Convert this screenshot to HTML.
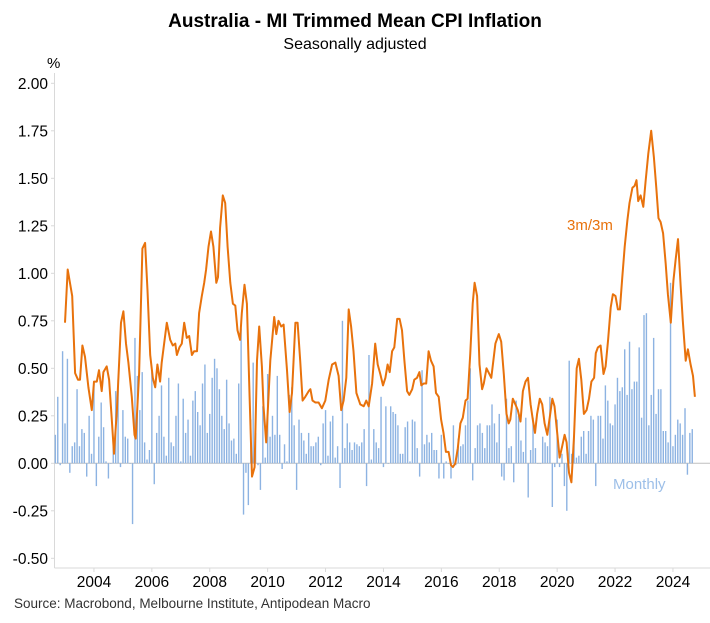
<!DOCTYPE html>
<html><head><meta charset="utf-8"><style>
body{margin:0;background:#fff;width:710px;height:623px;overflow:hidden}
svg{display:block;font-family:"Liberation Sans",Arial,sans-serif}
</style></head><body>
<svg width="710" height="623" viewBox="0 0 710 623">
<text x="355" y="27" text-anchor="middle" font-size="19" font-weight="bold" fill="#000">Australia - MI Trimmed Mean CPI Inflation</text>
<text x="355" y="49" text-anchor="middle" font-size="16" fill="#000">Seasonally adjusted</text>
<text x="47" y="68" font-size="15" fill="#000">%</text>
<g id="grid"></g>
<g id="bars"></g>
<g id="line"></g>
<text x="567" y="230" font-size="15" fill="#e8720c">3m/3m</text>
<text x="613" y="489" font-size="15" fill="#9dbfe8">Monthly</text>
<text x="14" y="608" font-size="13.5" fill="#333">Source: Macrobond, Melbourne Institute, Antipodean Macro</text>
</svg>
<script>
// months since Jan 2003 for 3m/3m line
const lineMonths=[0,1.1,3.0,4.2,5.4,6.2,7.2,8.3,9.7,11.1,12.0,13.2,14.1,15.2,15.9,17.3,18.3,19.4,20.3,21.5,23.2,24.2,25.3,26.3,27.7,28.8,29.3,30.7,32.1,33.2,34.2,35.3,36.4,37.4,38.3,39.4,40.1,42.2,43.6,44.7,45.7,46.4,47.4,48.4,49.4,50.5,51.5,52.6,53.5,54.7,55.6,56.7,57.7,58.5,59.5,60.5,61.5,62.7,63.4,64.3,65.4,66.4,67.4,68.5,69.6,70.6,71.5,72.6,73.3,74.4,75.4,76.5,77.5,78.6,79.6,80.5,81.6,82.3,83.4,85.1,86.7,87.6,88.5,89.6,90.6,92.0,93.1,94.1,95.5,96.4,97.5,98.5,99.6,101.0,101.7,102.6,103.8,105.1,106.5,107.9,109.3,110.7,112.1,113.4,114.5,115.5,116.6,117.6,118.6,119.6,120.8,122.4,123.8,124.9,125.9,127.3,128.6,129.6,130.7,131.8,132.8,133.7,134.6,135.6,136.5,137.7,138.7,139.7,140.7,141.8,142.7,143.9,144.8,145.9,146.9,147.7,148.7,149.7,150.7,151.7,152.8,153.8,154.9,155.9,156.9,157.9,159.0,160.0,160.8,161.8,162.8,163.9,164.9,166.0,166.9,168.0,169.0,169.8,170.8,171.8,172.9,173.6,174.7,176.7,178.4,179.8,180.8,181.9,183.0,183.9,184.6,185.6,186.7,187.7,188.8,189.8,190.9,191.9,193.0,193.9,194.8,195.7,196.8,197.8,198.8,199.9,200.9,202.0,202.9,204.0,205.0,206.1,207.1,207.9,208.9,209.9,211.0,212.1,213.0,214.0,215.1,216.2,217.2,218.2,219.3,220.0,220.9,222.0,223.2,224.1,225.1,226.2,227.1,228.2,229.2,230.0,231.0,232.0,233.1,234.0,235.2,236.1,236.9,237.6,238.6,239.7,240.7,241.8,243.0,244.1,245.1,246.0,246.9,247.9,249.0,249.9,251.1,252.2,253.1,254.1,255.2,256.1,257.3,258.2,259.3,260.3,261.1];
const lineValues=[0.74,1.02,0.88,0.475,0.44,0.44,0.62,0.56,0.40,0.28,0.43,0.43,0.49,0.38,0.48,0.51,0.44,0.23,0.05,0.28,0.74,0.80,0.63,0.53,0.35,0.15,0.13,0.47,1.13,1.16,0.91,0.57,0.45,0.40,0.52,0.43,0.53,0.74,0.65,0.62,0.63,0.57,0.61,0.63,0.74,0.66,0.67,0.57,0.59,0.59,0.79,0.88,0.95,1.02,1.14,1.22,1.14,0.95,0.98,1.24,1.41,1.37,1.14,0.95,0.84,0.83,0.70,0.65,0.79,0.94,0.84,0.35,-0.07,-0.02,0.54,0.72,0.51,0.30,0.11,0.54,0.77,0.68,0.75,0.72,0.73,0.49,0.27,0.37,0.74,0.74,0.54,0.33,0.35,0.38,0.39,0.33,0.32,0.32,0.29,0.33,0.44,0.52,0.53,0.46,0.28,0.33,0.45,0.81,0.72,0.59,0.37,0.31,0.30,0.33,0.30,0.42,0.63,0.52,0.47,0.41,0.45,0.52,0.48,0.59,0.61,0.76,0.76,0.70,0.54,0.38,0.36,0.39,0.44,0.45,0.48,0.41,0.42,0.42,0.59,0.54,0.51,0.37,0.35,0.23,0.16,0.06,0.06,-0.01,-0.02,0.00,0.08,0.21,0.24,0.33,0.34,0.58,0.84,0.95,0.88,0.52,0.39,0.42,0.50,0.45,0.63,0.68,0.64,0.47,0.26,0.21,0.23,0.34,0.31,0.28,0.22,0.38,0.43,0.45,0.31,0.23,0.16,0.26,0.34,0.31,0.21,0.15,0.24,0.34,0.30,0.16,0.03,0.09,0.15,0.11,-0.05,-0.10,0.14,0.50,0.55,0.44,0.26,0.28,0.34,0.43,0.45,0.58,0.61,0.62,0.47,0.51,0.65,0.82,0.89,0.88,0.81,0.81,0.98,1.14,1.28,1.37,1.45,1.46,1.49,1.38,1.41,1.35,1.49,1.63,1.75,1.61,1.45,1.29,1.27,1.21,1.05,0.89,0.74,0.96,1.07,1.18,0.93,0.75,0.54,0.60,0.52,0.46,0.35];
// monthly values, consecutive months starting Sep 2002 (month index -4)
const barStart=-4;
const barValues=[0.15,0.35,-0.01,0.59,0.21,0.55,-0.05,0.09,0.11,0.39,0.09,0.18,0.16,-0.07,0.25,0.05,0.42,-0.12,0.14,0.32,0.19,0.01,-0.08,0,0.09,0.38,0.44,-0.02,0.28,0.14,0.13,0,-0.32,0.66,0.46,0.28,0.48,0.11,0.02,0.07,0.48,-0.11,0.16,0.25,0.41,0.14,0.04,0.45,0.11,0.09,0.25,0.42,0.01,0.34,0.16,0.23,0.04,0.33,0.38,0.27,0.20,0.42,0.52,0.16,0.26,0.45,0.55,0.50,0.39,0.25,0.18,0.44,0.21,0.12,0.13,0.05,0.42,0.71,-0.27,-0.05,-0.22,0.23,0.53,0.16,-0.01,-0.14,0.30,0.03,0.47,
0.14,0.25,0.15,0.46,0.15,-0.03,0.10,0.01,0.36,0.40,0.20,-0.14,0.23,0.16,0.12,0.05,0.16,0.09,0.09,0.11,0.14,-0.01,0.21,0.28,0.04,0.22,0.25,0.03,0.09,-0.13,0.75,0.08,0.21,0.11,0.07,0.11,0.10,0.09,0.11,0.18,-0.12,0.57,0.02,0.18,0.11,0.08,0.35,-0.02,0.30,0,0.30,0.27,0.26,0.20,0.05,0.05,0.19,0.22,0.01,0.23,0.22,0.08,-0.07,0.49,0.10,0.15,0.11,0.16,0.07,0.07,-0.08,0.15,-0.08,0.01,0,-0.08,0.20,-0.01,0.13,0.09,0.10,0.20,0.33,0.50,-0.09,0.08,0.20,0.21,0.16,0.08,0.20,
0.20,0.31,0.21,0.11,0.26,-0.07,-0.09,0.34,0.08,0.09,-0.10,0.33,0.25,0.12,0.06,0.24,-0.18,0.07,0.24,0.08,0,0,0.14,0.11,0.09,0.35,-0.23,-0.02,0.23,-0.02,0.05,-0.12,-0.25,0.54,0.05,0.14,0.03,0.04,0.14,0.17,0.05,0.17,0.25,0.23,-0.12,0.25,0.25,0.13,0.41,0.33,0.21,0.20,0.31,0.45,0.38,0.40,0.60,0.36,0.64,0.39,0.43,0.43,0.61,0.24,0.78,0.79,0.20,0.36,0.66,0.26,0.39,0.39,0.17,0.17,0.11,0.95,0.09,0.15,0.23,0.21,0.15,0.29,-0.06,0.16,0.18];
const yTicks=[2.00,1.75,1.50,1.25,1.00,0.75,0.50,0.25,0.00,-0.25,-0.50];
const xTickYears=[2004,2006,2008,2010,2012,2014,2016,2018,2020,2022,2024];

const NS='http://www.w3.org/2000/svg';
function xOf(m){return 65+m*2.4125;}
function xYear(y){return xOf((y-2003)*12);}
function yOf(v){return 463.3-v*190;}
function mk(tag,attrs,parent){const e=document.createElementNS(NS,tag);for(const k in attrs)e.setAttribute(k,attrs[k]);parent.appendChild(e);return e;}
const grid=document.getElementById('grid');
let ax=mk('line',{x1:54.5,y1:73,x2:54.5,y2:568,stroke:'#d9d9d9','stroke-width':1},grid);


let bx=mk('line',{x1:54.5,y1:568,x2:710,y2:568,stroke:'#d9d9d9','stroke-width':1},grid);


yTicks.forEach(v=>{
  const y=yOf(v);
  let t=mk('line',{x1:51,y1:y,x2:54.5,y2:y,stroke:'#d9d9d9'},grid);
  
  
  let l=mk('text',{x:48,y:y+5.5,'text-anchor':'end','font-size':15.5,fill:'#000'},grid);
  l.textContent=v.toFixed(2);
  
  
});
let z=mk('line',{x1:54.5,y1:yOf(0),x2:710,y2:yOf(0),stroke:'#bfbfbf','stroke-width':1},grid);


xTickYears.forEach(yr=>{
  const x=xYear(yr);
  let t=mk('line',{x1:x,y1:568,x2:x,y2:572,stroke:'#d9d9d9'},grid);
  
  
  let l=mk('text',{x:x,y:587,'text-anchor':'middle','font-size':15.5,fill:'#000'},grid);
  l.textContent=yr;
  
  
});
const bars=document.getElementById('bars');
barValues.forEach((v,i)=>{
  const x=xOf(barStart+i);
  const y0=yOf(0),y1=yOf(v);
  let r=mk('rect',{x:x-0.7,y:Math.min(y0,y1),width:1.4,height:Math.max(0.5,Math.abs(y1-y0)),fill:'#8db3e2'},bars);
  
  
});
const lg=document.getElementById('line');
const pts=lineMonths.map((m,i)=>xOf(m).toFixed(1)+','+yOf(lineValues[i]).toFixed(1)).join(' ');
let p=mk('polyline',{points:pts,fill:'none',stroke:'#e8720c','stroke-width':2,'stroke-linejoin':'round'},lg);


</script>
</body></html>
